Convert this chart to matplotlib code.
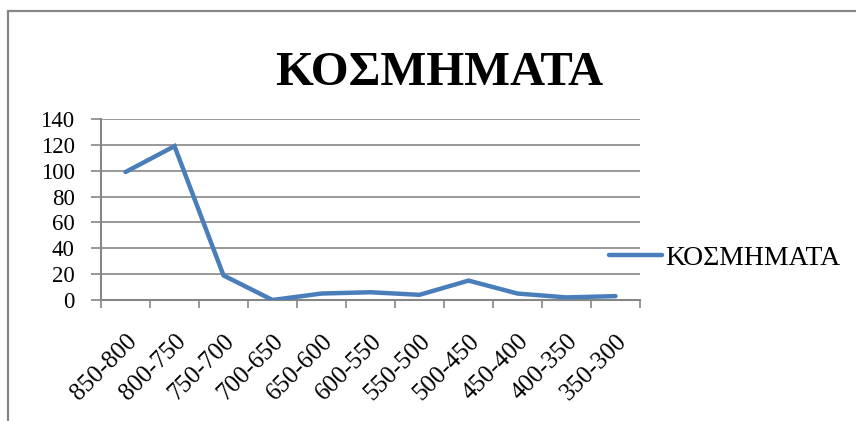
import matplotlib
matplotlib.use("Agg")
import matplotlib.pyplot as plt
from matplotlib.patches import Rectangle
from matplotlib.transforms import ScaledTranslation

title = "ΚΟΣΜΗΜΑΤΑ"
series_name = "ΚΟΣΜΗΜΑΤΑ"
categories = ["850-800", "800-750", "750-700", "700-650", "650-600", "600-550",
              "550-500", "500-450", "450-400", "400-350", "350-300"]
values = [99, 119, 19, 0, 5, 6, 4, 15, 5, 2, 3]
y_ticks = [0, 20, 40, 60, 80, 100, 120, 140]

W, H = 856, 421
plt.rcParams['font.family'] = ['Liberation Serif', 'DejaVu Serif']

fig = plt.figure(figsize=(W / 100, H / 100), dpi=100)
fig.patch.set_facecolor('white')

# outer chart border
fig.patches.append(Rectangle((8 / W, -0.1), 1.2, 1 - 11 / H + 0.1, transform=fig.transFigure,
                             fill=False, edgecolor='#868686', linewidth=1.6))

left, right, top, bottom = 101 / W, 640 / W, 1 - 119 / H, 1 - 300 / H
ax = fig.add_axes([left, bottom, right - left, top - bottom])

x = list(range(len(categories)))
line, = ax.plot(x, values, color='#4A7EBB', linewidth=3.2, solid_capstyle='round',
                solid_joinstyle='miter', label=series_name, zorder=3)

ax.set_xlim(-0.5, len(categories) - 0.5)
ax.set_ylim(0, 140)
ax.set_yticks(y_ticks)
ax.set_yticklabels([str(v) for v in y_ticks], fontsize=16.5)
ax.yaxis.grid(True, color='#868686', linewidth=1.2)
ax.set_axisbelow(True)

ax.set_xticks([i - 0.5 for i in range(len(categories) + 1)], minor=False)
ax.set_xticklabels([])
ax.set_xticks(x, minor=True)
ax.set_xticklabels(categories, minor=True, rotation=45, ha='right', va='top',
                   rotation_mode='anchor', fontsize=18)
offset = ScaledTranslation(6 / 100, 0, fig.dpi_scale_trans)
for lbl in ax.get_xticklabels(minor=True):
    lbl.set_transform(lbl.get_transform() + offset)
ax.tick_params(axis='x', which='major', length=6, width=1.2, color='#868686', direction='out')
ax.tick_params(axis='x', which='minor', length=0, pad=22)
ax.tick_params(axis='y', length=7, width=1.2, color='#868686', pad=12)

for s in ['top', 'right']:
    ax.spines[s].set_visible(False)
for s in ['left', 'bottom']:
    ax.spines[s].set_color('#868686')
    ax.spines[s].set_linewidth(1.5)

fig.text(439 / W, 1 - 85 / H, title, ha='center', va='baseline', fontsize=35, fontweight='bold')

fig.legend(handles=[line], loc='center left', bbox_to_anchor=(609 / W, 1 - 258 / H),
           frameon=False, fontsize=20, handlelength=1.9, handletextpad=0.11,
           borderpad=0, borderaxespad=0)

fig.savefig('out.png', dpi=100)
